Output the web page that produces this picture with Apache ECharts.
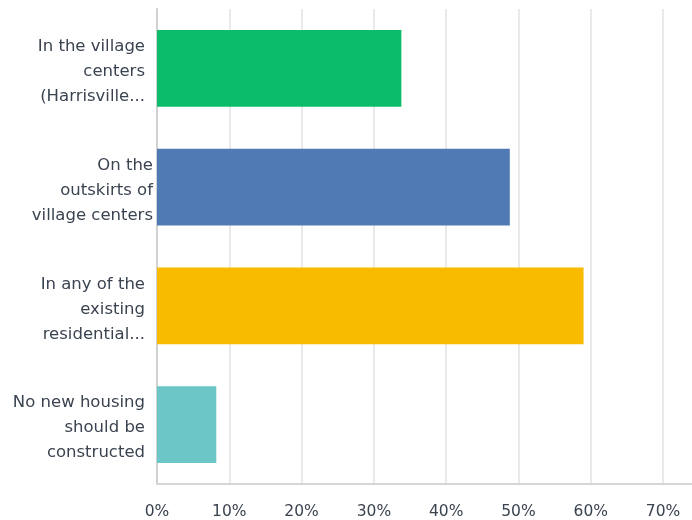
<!DOCTYPE html>
<html>
<head>
<meta charset="utf-8">
<script src="https://cdn.jsdelivr.net/npm/echarts@6/dist/echarts.min.js"></script>
<style>
  html, body { margin: 0; padding: 0; background: #fff; }
  #chart { width: 692px; height: 520px; }
</style>
</head>
<body>
<div id="chart"></div>
<script>
// Where should new housing go? Share of respondents per answer choice.
const categories = [
  'In the village\ncenters\n(Harrisville...',
  'On the\noutskirts of\nvillage centers',
  'In any of the\nexisting\nresidential...',
  'No new housing\nshould be\nconstructed'
];
const percents = [33.8, 48.8, 59.0, 8.2];
const barColors = ['#0bbd6a', '#507ab4', '#f8bb00', '#6cc6c8'];
const tickValues = [0, 10, 20, 30, 40, 50, 60, 70];

const chart = echarts.init(document.getElementById('chart'));
const FONT = '"DejaVu Sans", sans-serif';
const TEXT = '#3a4350';

chart.setOption({
  animation: false,
  grid: { left: 157, right: 0, top: 9, bottom: 33, containLabel: false },
  xAxis: {
    type: 'value',
    min: 0,
    max: 74,
    interval: 10,
    axisLine: { show: true, lineStyle: { color: '#d6d6d6', width: 2 } },
    axisTick: { show: false },
    splitLine: { show: true, showMaxLine: false, lineStyle: { color: '#e9e9e9', width: 2 } },
    axisLabel: {
      margin: 20,
      color: TEXT,
      fontFamily: FONT,
      fontSize: 15.5,
      showMaxLabel: false,
      formatter: v => (tickValues.indexOf(v) >= 0 ? v + '%' : '')
    }
  },
  yAxis: {
    type: 'category',
    inverse: true,
    data: categories,
    axisLine: { show: true, lineStyle: { color: '#d0d0d0', width: 2 } },
    axisTick: { show: false },
    axisLabel: {
      margin: 4,
      align: 'right',
      padding: [7, 0, 0, 0],
      formatter: (val, idx) => {
        const key = idx === 1 ? 'a' : 'b';
        return val.split('\n').map(s => '{' + key + '|' + s + '}').join('\n');
      },
      rich: {
        a: { color: TEXT, fontFamily: FONT, fontSize: 16.5, lineHeight: 25, align: 'right' },
        b: { color: TEXT, fontFamily: FONT, fontSize: 16.5, lineHeight: 25, align: 'right', padding: [0, 8, 0, 0] }
      }
    }
  },
  series: [{
    type: 'bar',
    barWidth: '64.5%',
    data: percents.map((v, i) => ({
      value: v,
      itemStyle: { color: barColors[i] }
    }))
  }]
});
</script>
</body>
</html>
